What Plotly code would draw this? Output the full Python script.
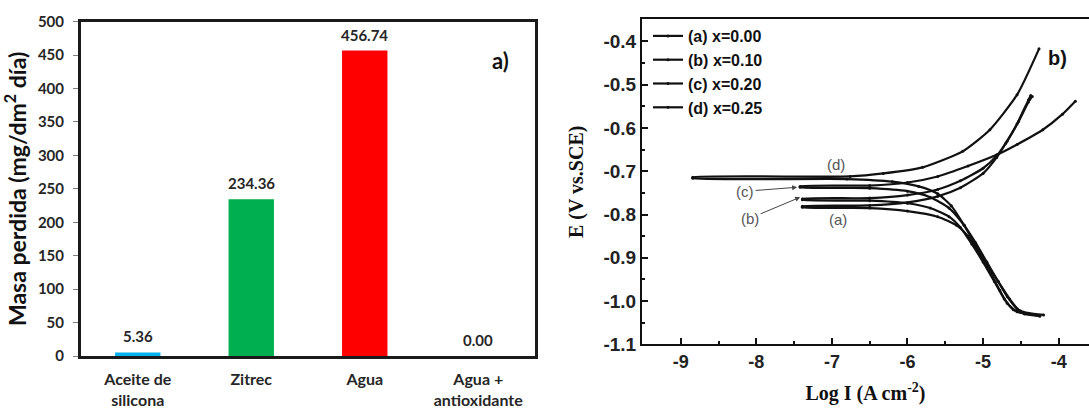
import plotly.graph_objects as go

# ---- Panel a): mass loss per medium ----
media = ["Aceite de<br>silicona", "Zitrec", "Agua", "Agua +<br>antioxidante"]
mass_loss = [5.36, 234.36, 456.74, 0.00]
bar_colors = ["#00B0F0", "#00B050", "#FF0000", "#7F7F7F"]

# ---- Panel b): potentiodynamic polarization curves (log I, E) ----
# each curve: cathodic branch (bottom -> Ecorr) followed by anodic branch
a_logi = [-4.30, -4.55, -4.68, -4.78, -4.90, -5.05, -5.20, -5.35, -5.60, -6.00, -6.50, -7.39,
          -7.39, -6.50, -6.00, -5.60, -5.30, -5.00, -4.82, -4.70, -4.55, -4.40, -4.37]
a_e = [-1.032, -1.025, -1.005, -0.975, -0.935, -0.890, -0.850, -0.825, -0.805, -0.792, -0.785, -0.783,
       -0.781, -0.779, -0.772, -0.758, -0.738, -0.705, -0.668, -0.635, -0.590, -0.535, -0.525]

b_logi = [-4.25, -4.45, -4.60, -4.72, -4.85, -5.00, -5.15, -5.30, -5.45, -5.70, -6.00, -6.50, -7.39,
          -7.39, -6.50, -6.00, -5.60, -5.30, -5.00, -4.82, -4.68, -4.53, -4.40, -4.35]
b_e = [-1.035, -1.030, -1.020, -0.995, -0.955, -0.910, -0.868, -0.830, -0.805, -0.785, -0.774, -0.768, -0.766,
       -0.764, -0.762, -0.755, -0.742, -0.722, -0.693, -0.664, -0.630, -0.585, -0.540, -0.527]

c_logi = [-4.20, -4.40, -4.55, -4.68, -4.80, -4.95, -5.10, -5.25, -5.45, -5.70, -6.00, -6.50, -7.42,
          -7.42, -6.50, -6.00, -5.60, -5.20, -4.82, -4.55, -4.21, -3.95, -3.78]
c_e = [-1.032, -1.028, -1.018, -0.990, -0.955, -0.910, -0.865, -0.825, -0.785, -0.760, -0.746, -0.739, -0.737,
       -0.735, -0.733, -0.726, -0.712, -0.688, -0.662, -0.638, -0.604, -0.568, -0.538]

d_logi = [-4.45, -4.52, -4.65, -4.80, -4.95, -5.10, -5.25, -5.42, -5.60, -5.85, -6.20, -6.80, -8.84,
          -8.84, -6.76, -6.32, -5.80, -5.27, -4.91, -4.55, -4.26]
d_e = [-1.028, -1.022, -0.995, -0.955, -0.915, -0.870, -0.825, -0.780, -0.752, -0.735, -0.724, -0.718, -0.716,
       -0.714, -0.712, -0.705, -0.691, -0.654, -0.604, -0.523, -0.417]

curve_names = ["(a) x=0.00", "(b) x=0.10", "(c) x=0.20", "(d) x=0.25"]
curve_x = [a_logi, b_logi, c_logi, d_logi]
curve_y = [a_e, b_e, c_e, d_e]

logi_ticks = [-9, -8, -7, -6, -5, -4]
logi_labels = ["-9", "-8", "-7", "-6", "-5", "-4"]
e_ticks = [-1.1, -1.0, -0.9, -0.8, -0.7, -0.6, -0.5, -0.4]
e_labels = ["-1.1", "-1.0", "-0.9", "-0.8", "-0.7", "-0.6", "-0.5", "-0.4"]

SANS_A = "Lato"
SANS_B = "Liberation Sans"
SERIF_B = "Liberation Serif"
INK = "#262626"
W, H = 1089, 409

fig = go.Figure()

fig.add_trace(go.Bar(
    x=media, y=mass_loss, marker=dict(color=bar_colors, line=dict(width=0)),
    width=0.4, xaxis="x", yaxis="y", showlegend=False,
))

for name, xs, ys in zip(curve_names, curve_x, curve_y):
    fig.add_trace(go.Scatter(
        x=xs, y=ys, name=name, mode="lines+markers",
        line=dict(color="#111111", width=2.2, shape="spline", smoothing=0.6),
        marker=dict(size=3, color="#111111"),
        xaxis="x2", yaxis="y2",
    ))

annotations = []
# value labels above the bars
for cat, val in zip(media, mass_loss):
    annotations.append(dict(
        x=cat, y=val, xref="x", yref="y", text=f"{val:.2f}", showarrow=False,
        yshift=16, font=dict(family=SANS_A, size=15, color=INK, weight="bold"),
    ))

# panel letters
annotations += [
    dict(x=500 / W, y=1 - 45 / H, xref="paper", yref="paper", text="a)", showarrow=False,
         font=dict(family=SANS_A, size=22, color="#111", weight="bold")),
    dict(x=1069 / W, y=1 - 45 / H, xref="paper", yref="paper", text="b)", showarrow=False,
         font=dict(family=SANS_B, size=20, color="#111", weight="bold")),
]

# vertical title of the potential axis
annotations.append(dict(
    x=577 / W, y=1 - 182 / H, xref="paper", yref="paper", text="E (V vs.SCE)",
    textangle=-90, showarrow=False,
    font=dict(family=SERIF_B, size=20, color="#111", weight="bold"),
))

label_font = dict(family=SANS_B, size=15, color="#555555")
annotations += [
    dict(x=-6.94, y=-0.684, xref="x2", yref="y2", text="(d)", showarrow=False, font=label_font),
    dict(x=-6.92, y=-0.811, xref="x2", yref="y2", text="(a)", showarrow=False, font=label_font),
    dict(x=-7.46, y=-0.737, xref="x2", yref="y2", text="(c)", showarrow=True, ax=-52, ay=4,
         arrowhead=2, arrowsize=1, arrowwidth=1, arrowcolor="#444444", font=label_font),
    dict(x=-7.42, y=-0.760, xref="x2", yref="y2", text="(b)", showarrow=True, ax=-50, ay=21,
         arrowhead=2, arrowsize=1, arrowwidth=1, arrowcolor="#444444", font=label_font),
]

fig.update_layout(
    width=W, height=H, margin=dict(l=0, r=0, t=0, b=0, autoexpand=False),
    paper_bgcolor="white", plot_bgcolor="white",
    bargap=0.6,
    xaxis=dict(
        domain=[81 / W, 535 / W], anchor="y", type="category", automargin=False,
        showline=True, mirror=True, linewidth=3, linecolor="#1a1a1a",
        ticks="", showgrid=False, ticklabelstandoff=7,
        tickfont=dict(family=SANS_A, size=16, color=INK, weight="bold"),
    ),
    yaxis=dict(
        domain=[1 - 356 / H, 1 - 21.7 / H], anchor="x", range=[0, 500], dtick=50, automargin=False,
        showline=True, mirror=True, linewidth=3, linecolor="#1a1a1a",
        ticks="outside", ticklen=5, tickcolor="#7f7f7f", showgrid=False, zeroline=False,
        ticklabelstandoff=6,
        tickfont=dict(family=SANS_A, size=15, color=INK, weight="bold"),
        title=dict(text="Masa perdida (mg/dm<sup>2</sup> día)", standoff=8,
                   font=dict(family=SANS_A, size=23, color="#111", weight="bold")),
    ),
    xaxis2=dict(
        domain=[642 / W, 1.0], anchor="y2", range=[-9.512, -3.599], automargin=False,
        tickvals=logi_ticks, ticktext=logi_labels,
        showline=True, mirror=True, linewidth=2, linecolor="#111",
        ticks="inside", ticklen=6, tickwidth=2, tickcolor="#111", showgrid=False, zeroline=False,
        minor=dict(dtick=0.5, tick0=-9.5, ticks="inside", ticklen=3, tickwidth=2, tickcolor="#111", showgrid=False),
        tickfont=dict(family=SANS_B, size=18, color="#222", weight="bold"),
        title=dict(text="Log I (A cm<sup>-2</sup>)", standoff=15,
                   font=dict(family=SERIF_B, size=20, color="#111", weight="bold")),
    ),
    yaxis2=dict(
        domain=[1 - 344.3 / H, 1 - 19 / H], anchor="x2", range=[-1.1, -0.348], automargin=False,
        tickvals=e_ticks, ticktext=e_labels,
        showline=True, mirror=False, linewidth=2, linecolor="#111",
        ticks="inside", ticklen=6, tickwidth=2, tickcolor="#111", showgrid=False, zeroline=False,
        minor=dict(dtick=0.05, tick0=-1.1, ticks="inside", ticklen=3, tickwidth=2, tickcolor="#111", showgrid=False),
        tickfont=dict(family=SANS_B, size=19, color="#222", weight="bold"),
    ),
    legend=dict(
        x=648 / W, y=1 - 19 / H, xanchor="left", yanchor="top",
        bgcolor="rgba(0,0,0,0)", tracegroupgap=0, itemwidth=30,
        font=dict(family=SANS_B, size=16, color="#111", weight="bold"),
    ),
    annotations=annotations,
)

fig.write_html("out.html")
